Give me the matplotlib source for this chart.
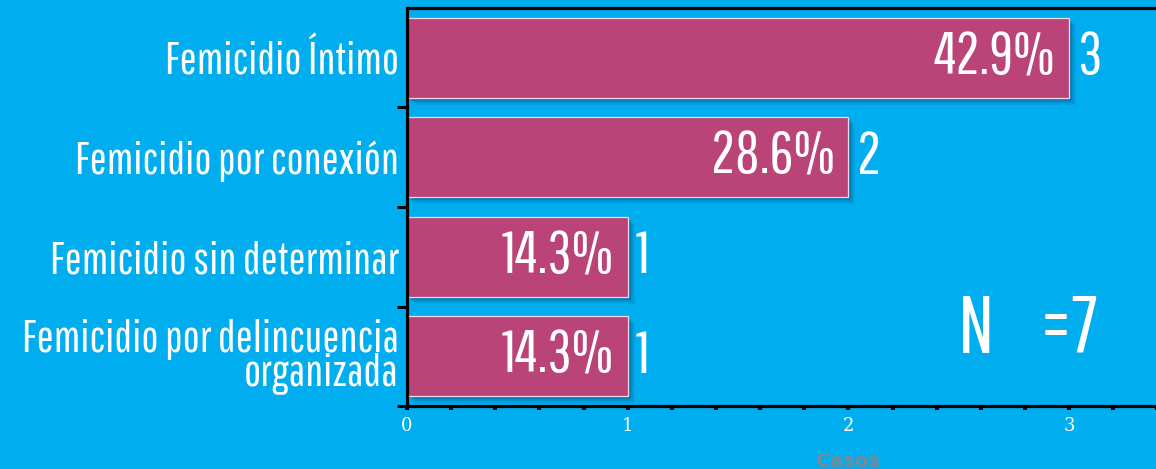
import matplotlib
matplotlib.use("Agg")
import matplotlib.pyplot as plt
import matplotlib.transforms as mtransforms
from matplotlib.ticker import MultipleLocator, FixedLocator

categories = ["Femicidio Íntimo", "Femicidio por conexión",
              "Femicidio sin determinar", "Femicidio por delincuencia\norganizada"]
counts = [3, 2, 1, 1]
percents = ["42.9%", "28.6%", "14.3%", "14.3%"]
total_label = "N    =7"
x_ticks = [0, 1, 2, 3]
x_label = "Casos"

BG = "#00AEEF"
BAR = "#BA4377"
COND = ["Pathway Gothic One", "Fira Sans Extra Condensed", "DejaVu Sans"]

fig = plt.figure(figsize=(11.56, 4.69), dpi=100, facecolor=BG)
ax = fig.add_axes([407/1156, 63/469, 4*220.7/1156, 398/469])
ax.set_facecolor(BG)

ypos = list(range(len(categories)))

# soft shadow behind bars
for dx, dy, a in [(7, -7, 0.10), (5, -5, 0.15), (3, -3, 0.22)]:
    off = mtransforms.offset_copy(ax.transData, fig=fig, x=dx, y=dy, units='dots')
    ax.barh(ypos, counts, height=0.8, color="#003a66", alpha=a, transform=off,
            linewidth=0, zorder=1)

ax.barh(ypos, counts, height=0.8, color=BAR, edgecolor="#f0d8e4", linewidth=0.9, zorder=2)

for y, c, p in zip(ypos, counts, percents):
    ax.annotate(p, (c, y), xytext=(-10, 0), textcoords='offset points', ha='right', va='center',
                color='white', fontsize=43, family=COND, zorder=3)
    ax.annotate(str(c), (c, y), xytext=(6, 0), textcoords='offset points', ha='left', va='center',
                color='white', fontsize=43, family=COND, zorder=3)

ax.set_xlim(0, 4)
ax.set_ylim(len(categories) - 0.5, -0.5)

ax.set_yticks(ypos)
ax.set_yticklabels(categories, family=COND, fontsize=32.5, color='white', linespacing=0.75)
ax.tick_params(axis='y', which='major', length=0, pad=6)
ax.yaxis.set_minor_locator(FixedLocator([0.5, 1.5, 2.5, 3.5]))
ax.tick_params(axis='y', which='minor', length=7, width=2.2, color='black', direction='out')

ax.set_xticks(x_ticks)
ax.set_xticklabels([str(t) for t in x_ticks], family='DejaVu Serif', fontsize=13, color='white')
ax.xaxis.set_minor_locator(MultipleLocator(0.2))
ax.tick_params(axis='x', which='both', length=3, width=3, color='black', direction='out', pad=5)

ax.set_xlabel(x_label, color='#7a8898', fontsize=14, fontweight='bold', labelpad=12)

for s in ['left', 'bottom', 'top']:
    ax.spines[s].set_linewidth(2.3)
    ax.spines[s].set_color('black')
ax.spines['right'].set_visible(False)

ax.text(3.13, 2.97, total_label, ha='right', va='baseline', color='white', fontsize=58,
        family=COND, zorder=3)

fig.savefig("out.png", dpi=100, facecolor=BG)
